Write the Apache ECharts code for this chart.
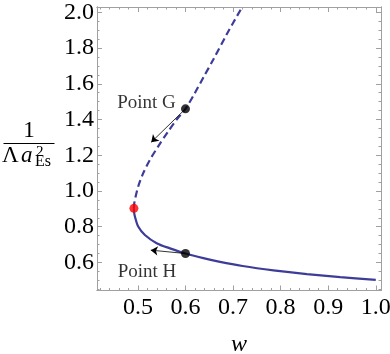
<!DOCTYPE html>
<html><head><meta charset="utf-8">
<script src="https://cdn.jsdelivr.net/npm/echarts@6/dist/echarts.min.js"></script>
<style>html,body{margin:0;padding:0;background:#fff}#c{width:390px;height:354px}</style>
</head><body><div id="c"></div>
<script>
// ---- axis ranges and ticks ----
const xRange = [0.414, 1.011];
const yRange = [0.443, 2.03];
const xMajorTicks = [0.5, 0.6, 0.7, 0.8, 0.9, 1.0];
const xMinorTicks = [0.42, 0.44, 0.46, 0.48, 0.52, 0.54, 0.56, 0.58, 0.62, 0.64, 0.66, 0.68,
  0.72, 0.74, 0.76, 0.78, 0.82, 0.84, 0.86, 0.88, 0.92, 0.94, 0.96, 0.98];
const yMajorTicks = [0.6, 0.8, 1.0, 1.2, 1.4, 1.6, 1.8, 2.0];
const yMinorTicks = [0.45, 0.5, 0.55, 0.65, 0.7, 0.75, 0.85, 0.9, 0.95, 1.05, 1.1, 1.15,
  1.25, 1.3, 1.35, 1.45, 1.5, 1.55, 1.65, 1.7, 1.75, 1.85, 1.9, 1.95];

// ---- curve data (w, 1/(Λ a²)) ----
const lowerW = [0.4916, 0.4920, 0.4937, 0.5006, 0.5147, 0.5394, 0.5674, 0.6000, 0.6375, 0.6726, 0.7200, 0.7848, 0.8552, 0.9253, 1.0000];
const lowerY = [0.903, 0.880, 0.857, 0.801, 0.754, 0.708, 0.679, 0.650, 0.624, 0.603, 0.580, 0.556, 0.535, 0.518, 0.502];
const upperW = [0.4916, 0.4921, 0.4937, 0.5006, 0.5112, 0.5253, 0.5427, 0.5638, 0.5815, 0.6000, 0.6190, 0.6385, 0.6585, 0.6867, 0.7183];
const upperY = [0.903, 0.927, 0.951, 1.025, 1.100, 1.175, 1.250, 1.334, 1.400, 1.460, 1.545, 1.640, 1.736, 1.877, 2.026];

// ---- special points ----
const foldPoint = [0.4916, 0.903];
const pointNames = ['Point G', 'Point H'];
const pointW = [0.600, 0.600];
const pointY = [1.460, 0.650];
const arrowTipW = [0.528, 0.527];
const arrowTipY = [1.273, 0.669];
const labelW = [0.518, 0.519];
const labelY = [1.492, 0.545];

const zip = (a, b) => a.map((v, i) => [v, b[i]]);
const FONT = '"Liberation Serif", "Times New Roman", serif';
const LINE = '#3d3d99';
const FRAME = '#a0a0a0';

function xAx(pos, ticks, len, labels) {
  return {
    type: 'value', position: pos, min: xRange[0], max: xRange[1],
    axisLine: { show: true, onZero: false, lineStyle: { color: FRAME, width: 1 } },
    axisTick: { show: true, inside: true, length: len, customValues: ticks, lineStyle: { color: FRAME, width: 1 } },
    axisLabel: labels ? { show: true, customValues: ticks, formatter: v => v.toFixed(1), color: '#000', fontSize: 24, fontFamily: FONT, margin: 5 } : { show: false },
    splitLine: { show: false },
    name: labels ? 'w' : '', nameLocation: 'middle', nameGap: 42,
    nameTextStyle: { fontSize: 24, fontStyle: 'italic', fontFamily: FONT, color: '#000' }
  };
}
function yAx(pos, ticks, len, labels) {
  return {
    type: 'value', position: pos, min: yRange[0], max: yRange[1],
    axisLine: { show: true, onZero: false, lineStyle: { color: FRAME, width: 1 } },
    axisTick: { show: true, inside: true, length: len, customValues: ticks, lineStyle: { color: FRAME, width: 1 } },
    axisLabel: labels ? { show: true, customValues: ticks, formatter: v => v.toFixed(1), color: '#000', fontSize: 24, fontFamily: FONT, margin: 3 } : { show: false },
    splitLine: { show: false }
  };
}

const chart = echarts.init(document.getElementById('c'), null, { renderer: 'canvas' });
chart.setOption({
  animation: false,
  backgroundColor: '#fff',
  grid: { left: 97, right: 9, top: 7, bottom: 63.5, containLabel: false, outerBoundsMode: 'none' },
  xAxis: [xAx('bottom', xMajorTicks, 5, true), xAx('bottom', xMinorTicks, 2.5, false),
          xAx('top', xMajorTicks, 5, false), xAx('top', xMinorTicks, 2.5, false)],
  yAxis: [yAx('left', yMajorTicks, 5, true), yAx('left', yMinorTicks, 2.5, false),
          yAx('right', yMajorTicks, 5, false), yAx('right', yMinorTicks, 2.5, false)],
  graphic: [
    { type: 'text', x: 29, y: 131, style: { text: '1', font: '23px ' + FONT, fill: '#000', align: 'center', verticalAlign: 'middle' } },
    { type: 'line', shape: { x1: 3.5, y1: 143.5, x2: 54.5, y2: 143.5 }, style: { stroke: '#000', lineWidth: 1 } },
    { type: 'text', x: 2, y: 156, style: { text: 'Λ', font: '23px ' + FONT, fill: '#000', align: 'left', verticalAlign: 'middle' } },
    { type: 'text', x: 21, y: 156, style: { text: 'a', font: 'italic 23px ' + FONT, fill: '#000', align: 'left', verticalAlign: 'middle' } },
    { type: 'text', x: 36, y: 152, style: { text: '2', font: '15px ' + FONT, fill: '#000', align: 'left', verticalAlign: 'middle' } },
    { type: 'text', x: 35, y: 162, style: { text: 'Es', font: '16px ' + FONT, fill: '#000', align: 'left', verticalAlign: 'middle' } }
  ],
  series: [
    { type: 'line', xAxisIndex: 0, yAxisIndex: 0, data: zip(lowerW, lowerY), showSymbol: false, smooth: 0.3,
      lineStyle: { color: LINE, width: 2.2 }, z: 3 },
    { type: 'line', xAxisIndex: 0, yAxisIndex: 0, data: zip(upperW, upperY), showSymbol: false, smooth: 0.3,
      lineStyle: { color: LINE, width: 2.2, type: [7, 4] }, z: 3 },
    { type: 'lines', coordinateSystem: 'cartesian2d', xAxisIndex: 0, yAxisIndex: 0,
      data: pointW.map((w, i) => ({ coords: [[w, pointY[i]], [arrowTipW[i], arrowTipY[i]]] })),
      symbol: ['none', 'arrow'], symbolSize: 7, lineStyle: { color: '#000', width: 0.8, opacity: 1 }, z: 4 },
    { type: 'scatter', xAxisIndex: 0, yAxisIndex: 0, data: zip(pointW, pointY), symbolSize: 9,
      itemStyle: { color: '#000' }, z: 5 },
    { type: 'scatter', xAxisIndex: 0, yAxisIndex: 0, data: [foldPoint], symbolSize: 9,
      itemStyle: { color: '#f00' }, z: 5 },
    { type: 'scatter', xAxisIndex: 0, yAxisIndex: 0, symbolSize: 0,
      data: labelW.map((w, i) => ({ value: [w, labelY[i]], name: pointNames[i] })),
      label: { show: true, position: 'inside', formatter: p => p.name, color: '#000', fontSize: 19, fontFamily: FONT },
      z: 6 }
  ]
});
</script>
</body></html>
